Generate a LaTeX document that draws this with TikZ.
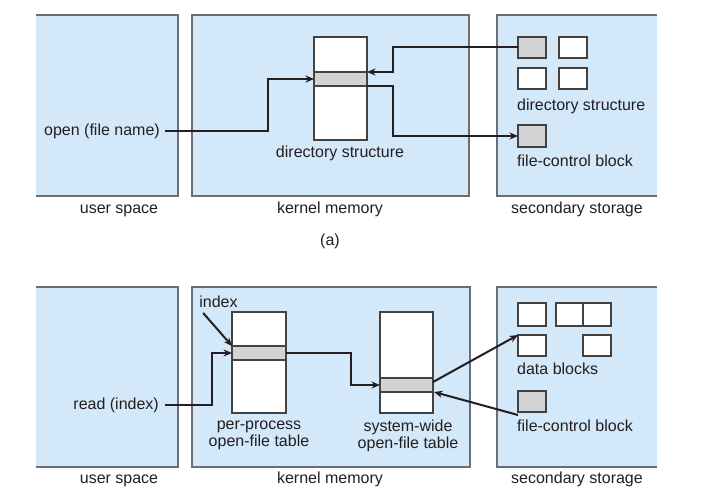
\documentclass[tikz,border=0pt]{standalone}
\usepackage{fontspec}
\setmainfont{Liberation Sans}
\usetikzlibrary{arrows.meta}
\definecolor{panelblue}{HTML}{D3E8F8}
\definecolor{bandgray}{HTML}{D2D3D5}
\definecolor{edgegray}{HTML}{6D6E71}
\definecolor{ink}{HTML}{231F20}

\begin{document}
\begin{tikzpicture}[x=1pt,y=-1pt,
  panel/.style={fill=panelblue},
  rim/.style={draw=edgegray, line width=1.3pt},
  cell/.style={draw=ink!85, line width=1.1pt, fill=white, inner sep=0pt,
               outer sep=0pt, anchor=north west, minimum width=28, minimum height=21},
  grayc/.style={cell, fill=bandgray},
  lbl/.style={font=\fontsize{16}{17}\selectfont, text=ink, inner sep=0pt, align=center},
  one/.style={lbl, text height=12pt, text depth=3.5pt},
  link/.style={draw=ink, line width=2pt, -{Stealth[length=8.5pt,width=7pt]}}
]
\useasboundingbox (0,0) rectangle (701,496);
\fill[white] (0,0) rectangle (701,496);

% ---------- part (a): opening a file ----------
\path[panel] (36,15) rectangle (178,196);
\draw[rim] (36,15) -- (178,15) -- (178,196) -- (36,196);
\path[panel] (192,15) rectangle (469,196);
\draw[rim] (192,15) rectangle (469,196);
\path[panel] (497,15) rectangle (657,196);
\draw[rim] (657,15) -- (497,15) -- (497,196) -- (657,196);

% in-memory directory structure
\node[cell, minimum width=53, minimum height=103] (dirtab) at (314,37) {};
\node[grayc, minimum width=53, minimum height=14] (dirband) at (314,72) {};

% on-disk directory structure and file-control block
\node[grayc] (sd1) at (518,37) {};
\node[cell]  (sd2) at (559,37) {};
\node[cell]  (sd3) at (518,68) {};
\node[cell]  (sd4) at (559,68) {};
\node[grayc, minimum height=22] (fcb) at (518,125) {};

\node[one, anchor=east] (openlbl) at (160,131) {open (file name)};
\node[one] (dirlbl) at (340,153) {directory structure};
\node[one, anchor=west] (sdlbl) at (517,106) {directory structure};
\node[one, anchor=west] (fcblbl) at (517,162) {file-control block};
\node[one] (us1) at (119,209) {user space};
\node[one] (km1) at (330,209) {kernel memory};
\node[one] (ss1) at (577,209) {secondary storage};
\node[one] (capa) at (330,241) {(a)};

\coordinate (j1) at (268,79);
\coordinate (j2) at (393,72);
\coordinate (j3) at (393,136);
\draw[link, shorten <=5pt] (openlbl.east) -| (j1) -- (dirband.west);
\draw[link] ([yshift=0.5]sd1.west) -| (j2) -- (dirband.north east);
\draw[link] (dirband.south east) -| (j3) -- (fcb.west);

% ---------- part (b): reading through an index ----------
\path[panel] (36,287) rectangle (178,467);
\draw[rim] (36,287) -- (178,287) -- (178,467) -- (36,467);
\path[panel] (192,287) rectangle (470,467);
\draw[rim] (192,287) rectangle (470,467);
\path[panel] (497,287) rectangle (657,467);
\draw[rim] (657,287) -- (497,287) -- (497,467) -- (657,467);

% open-file tables
\node[cell, minimum width=54, minimum height=101] (ppt) at (232,312) {};
\node[grayc, minimum width=54, minimum height=14] (ppband) at (232,346) {};
\node[cell, minimum width=53, minimum height=101] (swt) at (380,312) {};
\node[grayc, minimum width=53, minimum height=14] (swband) at (380,378) {};

% data blocks and file-control block on disk
\node[cell, minimum height=23] (db1) at (518,303) {};
\node[cell, minimum width=27, minimum height=23] (db2) at (556,303) {};
\node[cell, minimum height=23] (db3) at (583,303) {};
\node[cell] (db4) at (518,335) {};
\node[cell] (db5) at (583,335) {};
\node[grayc] (fcb2) at (518,391) {};

\node[one] (idx) at (218.5,303) {index};
\node[one, anchor=east] (readlbl) at (159,405) {read (index)};
\node[lbl] (pplbl) at (259,435.5) {per-process\\open-file table};
\node[lbl] (swlbl) at (408,435.5) {system-wide\\open-file table};
\node[one, anchor=west] (dblbl) at (517,370) {data blocks};
\node[one, anchor=west] (fcblbl2) at (517,427) {file-control block};
\node[one] (us2) at (119,479) {user space};
\node[one] (km2) at (330,479) {kernel memory};
\node[one] (ss2) at (577,479) {secondary storage};

\coordinate (j4) at (212,353);
\coordinate (j5) at (351,385);
\draw[link] ([shift={(4,2)}]idx.south west) -- (ppband.north west);
\draw[link, shorten <=6pt] (readlbl.east) -| (j4) -- (ppband.west);
\draw[link] (ppband.east) -| (j5) -- (swband.west);
\draw[link] ([yshift=3]swband.east) -- (db4.north west);
\draw[link] ([yshift=-3]fcb2.south west) -- ([xshift=1]swband.south east);
\end{tikzpicture}
\end{document}
